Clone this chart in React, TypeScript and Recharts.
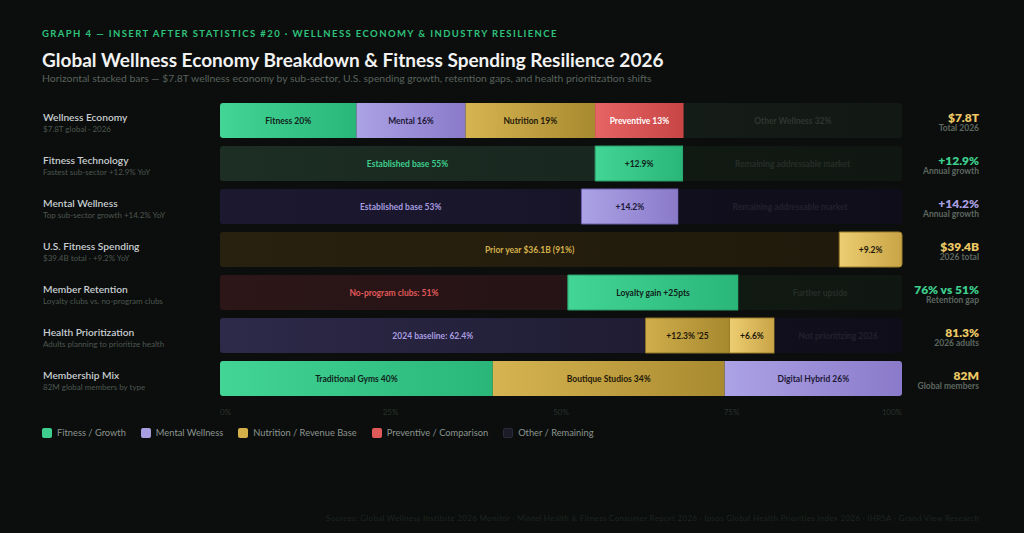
import React from 'react';
import { BarChart, Bar, XAxis, YAxis, Rectangle } from 'recharts';

const rowTitles = [
  'Wellness Economy',
  'Fitness Technology',
  'Mental Wellness',
  'U.S. Fitness Spending',
  'Member Retention',
  'Health Prioritization',
  'Membership Mix',
];

const rowSubtitles = [
  '$7.8T global · 2026',
  'Fastest sub-sector +12.9% YoY',
  'Top sub-sector growth +14.2% YoY',
  '$39.4B total · +9.2% YoY',
  'Loyalty clubs vs. no-program clubs',
  'Adults planning to prioritize health',
  '82M global members by type',
];

const segmentValues = [
  [20, 16, 19, 13, 32],
  [55, 12.9, 32.1],
  [53, 14.2, 32.8],
  [90.8, 9.2],
  [51, 25, 24],
  [62.4, 12.3, 6.6, 18.7],
  [40, 34, 26],
];

const segmentLabels = [
  ['Fitness 20%', 'Mental 16%', 'Nutrition 19%', 'Preventive 13%', 'Other Wellness 32%'],
  ['Established base 55%', '+12.9%', 'Remaining addressable market'],
  ['Established base 53%', '+14.2%', 'Remaining addressable market'],
  ['Prior year $36.1B (91%)', '+9.2%'],
  ['No-program clubs: 51%', 'Loyalty gain +25pts', 'Further upside'],
  ['2024 baseline: 62.4%', "+12.3% '25", '+6.6%', 'Not prioritizing 2026'],
  ['Traditional Gyms 40%', 'Boutique Studios 34%', 'Digital Hybrid 26%'],
];

const segmentKinds = [
  ['fitness', 'mental', 'nutrition', 'preventive', 'otherGreen'],
  ['fitnessBase', 'fitnessHi', 'remainGreen'],
  ['mentalBase', 'mentalHi', 'remainPurple'],
  ['nutritionBase', 'nutritionLight'],
  ['preventiveBase', 'fitnessHi', 'remainGreen'],
  ['healthBase', 'nutritionHi', 'nutritionLight', 'remainPurple'],
  ['fitness', 'nutrition', 'mental'],
];

const totals = ['$7.8T', '+12.9%', '+14.2%', '$39.4B', '76% vs 51%', '81.3%', '82M'];
const totalNotes = ['Total 2026', 'Annual growth', 'Annual growth', '2026 total', 'Retention gap', '2026 adults', 'Global members'];
const totalTones = ['gold', 'green', 'purple', 'gold', 'green', 'gold', 'gold'];

const axisTicks = [0, 25, 50, 75, 100];

const legendItems = [
  { label: 'Fitness / Growth', color: '#3ecf8e' },
  { label: 'Mental Wellness', color: '#a89de0' },
  { label: 'Nutrition / Revenue Base', color: '#d4b04a' },
  { label: 'Preventive / Comparison', color: '#e05a5a' },
  { label: 'Other / Remaining', color: '#1c1c28' },
];

const SEG_KEYS = ['s0', 's1', 's2', 's3', 's4'];

// fill gradient (from, to), label colour, optional border
const kindStyle: Record<string, { from: string; to: string; text: string; stroke?: string }> = {
  fitness: { from: '#42d595', to: '#2ab679', text: '#10211a' },
  mental: { from: '#aca2e6', to: '#8a7ac9', text: '#1d1836' },
  nutrition: { from: '#d6b451', to: '#a88a2f', text: '#1f1808' },
  preventive: { from: '#e76464', to: '#c84545', text: '#ffffff' },
  otherGreen: { from: '#141c17', to: '#121915', text: '#2e3731' },
  fitnessBase: { from: '#1d2e25', to: '#18271f', text: '#3ecf8e' },
  fitnessHi: { from: '#42d595', to: '#2ab679', text: '#10211a', stroke: '#2a9966' },
  remainGreen: { from: '#111913', to: '#101712', text: '#262e29' },
  mentalBase: { from: '#1c1830', to: '#181428', text: '#a89de0' },
  mentalHi: { from: '#aca2e6', to: '#8a7ac9', text: '#1d1836', stroke: '#6d5fae' },
  remainPurple: { from: '#110f1d', to: '#0f0d19', text: '#23212e' },
  nutritionBase: { from: '#29210f', to: '#201a0c', text: '#d4b04a' },
  nutritionLight: { from: '#ecce72', to: '#c9a446', text: '#1f1808', stroke: '#9c7f2c' },
  nutritionHi: { from: '#d0ae4c', to: '#a6882e', text: '#1f1808', stroke: '#8c7228' },
  preventiveBase: { from: '#2c1618', to: '#251315', text: '#e05a5a' },
  healthBase: { from: '#2d2949', to: '#1f1c33', text: '#a89de0' },
};

const toneColor: Record<string, string> = { gold: '#ecc865', green: '#3ecf8e', purple: '#a89de0' };

const rows = rowTitles.map((title, i) => {
  const row: Record<string, any> = { title, idx: i };
  segmentValues[i].forEach((v, j) => {
    row[SEG_KEYS[j]] = v;
  });
  return row;
});

const makeSegment = (segIndex: number) => (props: any) => {
  const { x, y, width, height, payload } = props;
  const i = payload.idx;
  const count = segmentValues[i].length;
  if (segIndex >= count || !width || width <= 0) return null;
  const kind = segmentKinds[i][segIndex];
  const st = kindStyle[kind];
  const r = 3;
  const radius: [number, number, number, number] = [
    segIndex === 0 ? r : 0,
    segIndex === count - 1 ? r : 0,
    segIndex === count - 1 ? r : 0,
    segIndex === 0 ? r : 0,
  ];
  return (
    <g>
      <Rectangle
        x={x}
        y={y}
        width={width}
        height={height}
        radius={radius}
        fill={`url(#grad-${kind})`}
        stroke={st.stroke || 'none'}
        strokeWidth={st.stroke ? 1 : 0}
      />
      <text
        x={x + width / 2}
        y={y + height / 2}
        textAnchor="middle"
        dominantBaseline="central"
        fill={st.text}
        fontSize={8.5}
        fontWeight={700}
      >
        {segmentLabels[i][segIndex]}
      </text>
    </g>
  );
};

const LeftTick = (props: any) => {
  const { x, y, payload } = props;
  const i = rowTitles.indexOf(payload.value);
  const left = x - 169;
  return (
    <g>
      <text x={left} y={y + 0.5} fill="#c9cdd1" fontSize={10.2} fontWeight={600}>
        {payload.value}
      </text>
      <text x={left} y={y + 11.5} fill="#4d5651" fontSize={8}>
        {rowSubtitles[i]}
      </text>
    </g>
  );
};

const RightTick = (props: any) => {
  const { x, y, payload } = props;
  const i = rowTitles.indexOf(payload.value);
  const right = x + 69;
  return (
    <g>
      <text x={right} y={y + 1} textAnchor="end" fill={toneColor[totalTones[i]]} fontSize={12} fontWeight={800}>
        {totals[i]}
      </text>
      <text x={right} y={y + 10} textAnchor="end" fill="#5e6761" fontSize={8.5} fontWeight={700}>
        {totalNotes[i]}
      </text>
    </g>
  );
};

const AxisTick = (props: any) => {
  const { x, y, payload } = props;
  const v = payload.value;
  const anchor = v === axisTicks[0] ? 'start' : v === axisTicks[axisTicks.length - 1] ? 'end' : 'middle';
  return (
    <text x={x} y={y + 7} textAnchor={anchor} fill="#2b322e" fontSize={8}>
      {`${v}%`}
    </text>
  );
};

export default function App() {
  return (
    <div
      style={{
        position: 'fixed',
        left: 0,
        top: 0,
        width: 1024,
        height: 533,
        background: '#0b0e0c',
        fontFamily: 'Lato, "Open Sans", sans-serif',
        overflow: 'hidden',
      }}
    >
      <div
        style={{
          position: 'absolute',
          left: 42,
          top: 28,
          fontSize: 9.5,
          fontWeight: 700,
          letterSpacing: 1.4,
          color: '#2fc27c',
          lineHeight: '12px',
          whiteSpace: 'nowrap',
        }}
      >
        GRAPH 4 — INSERT AFTER STATISTICS #20 · WELLNESS ECONOMY &amp; INDUSTRY RESILIENCE
      </div>
      <div
        style={{
          position: 'absolute',
          left: 42,
          top: 47,
          fontSize: 19,
          fontWeight: 700,
          color: '#f2f2f2',
          lineHeight: '26px',
          whiteSpace: 'nowrap',
        }}
      >
        Global Wellness Economy Breakdown &amp; Fitness Spending Resilience 2026
      </div>
      <div
        style={{
          position: 'absolute',
          left: 42,
          top: 71,
          fontSize: 10.4,
          color: '#5a625e',
          lineHeight: '14px',
          whiteSpace: 'nowrap',
        }}
      >
        Horizontal stacked bars — $7.8T wellness economy by sub-sector, U.S. spending growth, retention gaps, and health
        prioritization shifts
      </div>

      <div style={{ position: 'absolute', left: 0, top: 90 }}>
        <BarChart
          layout="vertical"
          width={1024}
          height={340}
          data={rows}
          margin={{ top: 9, right: 0, bottom: 10, left: 0 }}
          barSize={35}
        >
          <defs>
            {Object.keys(kindStyle).map((k) => (
              <linearGradient key={k} id={`grad-${k}`} x1="0" y1="0" x2="1" y2="0">
                <stop offset="0%" stopColor={kindStyle[k].from} />
                <stop offset="100%" stopColor={kindStyle[k].to} />
              </linearGradient>
            ))}
          </defs>
          <XAxis
            type="number"
            domain={[0, 100]}
            ticks={axisTicks}
            axisLine={false}
            tickLine={false}
            height={20}
            tick={<AxisTick />}
            interval={0}
          />
          <YAxis
            yAxisId="left"
            type="category"
            dataKey="title"
            width={220}
            axisLine={false}
            tickLine={false}
            tick={<LeftTick />}
            interval={0}
          />
          <YAxis
            yAxisId="right"
            orientation="right"
            type="category"
            dataKey="title"
            width={122}
            axisLine={false}
            tickLine={false}
            tick={<RightTick />}
            interval={0}
          />
          {SEG_KEYS.map((k, j) => (
            <Bar
              key={k}
              yAxisId="left"
              dataKey={k}
              stackId="row"
              isAnimationActive={false}
              shape={makeSegment(j)}
            />
          ))}
        </BarChart>
      </div>

      <div style={{ position: 'absolute', left: 42, top: 426, display: 'flex', alignItems: 'center' }}>
        {legendItems.map((it) => (
          <div key={it.label} style={{ display: 'flex', alignItems: 'center', marginRight: 15 }}>
            <span
              style={{
                width: 10,
                height: 10,
                borderRadius: 2,
                background: it.color,
                border: it.label.startsWith('Other') ? '1px solid #2a2a3a' : 'none',
                boxSizing: 'border-box',
                marginRight: 5,
              }}
            />
            <span style={{ fontSize: 9.3, color: '#8b9490', lineHeight: '14px' }}>{it.label}</span>
          </div>
        ))}
      </div>

      <div
        style={{
          position: 'absolute',
          right: 45,
          top: 513,
          fontSize: 8,
          color: '#1e2521',
          letterSpacing: 0.3,
          whiteSpace: 'nowrap',
        }}
      >
        Sources: Global Wellness Institute 2026 Monitor · Mintel Health &amp; Fitness Consumer Report 2026 · Ipsos Global
        Health Priorities Index 2026 · IHRSA · Grand View Research
      </div>
    </div>
  );
}
